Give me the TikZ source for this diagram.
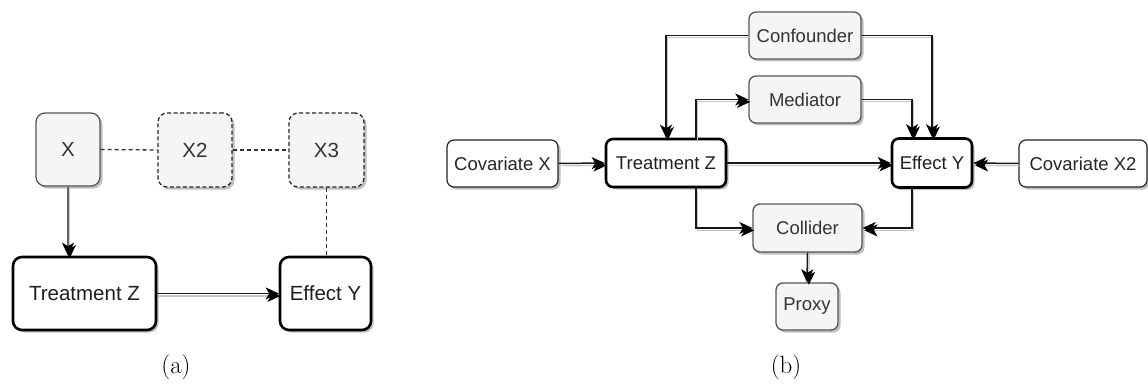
\documentclass[tikz,border=0pt]{standalone}
\usepackage{fontspec}
\setmainfont{Latin Modern Roman}
\newfontfamily\labelfont{Liberation Sans}
\usetikzlibrary{arrows.meta,shadows,calc}
\definecolor{boxgray}{HTML}{F5F5F5}
\definecolor{edgegray}{HTML}{555555}
\definecolor{txtgray}{HTML}{333333}
\tikzset{
  base/.style={rounded corners=#1, inner sep=0pt, align=center,
    drop shadow={shadow xshift=2.5pt, shadow yshift=-2.5pt, fill=black, opacity=0.25}},
  base/.default=9pt,
  varbox/.style={base=#1, draw=edgegray, line width=1.3pt, fill=boxgray, text=txtgray},
  varbox/.default=9pt,
  hidbox/.style={varbox=#1, draw=black!85, dash pattern=on 4pt off 2.5pt},
  hidbox/.default=9pt,
  keybox/.style={base=#1, draw=black, line width=2.6pt, fill=white, text=black!88},
  keybox/.default=9pt,
  covbox/.style={base=#1, draw=black!85, line width=1.2pt, fill=white, text=black!85},
  covbox/.default=7pt,
  fonta/.style={font=\labelfont\fontsize{20.5}{24}\selectfont},
  fontb/.style={font=\labelfont\fontsize{18.5}{22}\selectfont},
  tip/.style={-{Stealth[length=13pt,width=12pt,inset=3.5pt,color=black]}},
  link/.style={line width=1.5pt, draw=black!90,
    preaction={draw=black!22, line width=1.2pt, transform canvas={shift={(1.8pt,-2.4pt)}}}},
  hidlink/.style={line width=1.3pt, draw=txtgray, dash pattern=on 4pt off 3pt},
  caption/.style={font=\fontsize{25}{30}\selectfont, inner sep=0pt},
}
\begin{document}
\begin{tikzpicture}[x=1pt, y=-1pt]
\useasboundingbox (0,0) rectangle (1148,385);

% ---------- panel (a) ----------
\node[varbox, fonta, minimum width=64pt, minimum height=73pt] (ax) at (68,149.5) {X};
\node[hidbox, fonta, minimum width=74pt, minimum height=74pt] (ax2) at (195,150) {X2};
\node[hidbox, fonta, minimum width=75pt, minimum height=74pt] (ax3) at (326.5,150) {X3};
\node[keybox, fonta, minimum width=143pt, minimum height=73pt] (az) at (84.5,293.5) {Treatment Z};
\node[keybox, fonta, minimum width=91pt, minimum height=73pt] (ay) at (325.5,293.5) {Effect Y};

\draw[hidlink] (ax.east) -- (ax2.west);
\draw[hidlink] (ax2.east) -- (ax3.west);
\draw[hidlink] (ax3.south) -- (ax3.south |- ay.north);
\draw[link, tip, draw=black!60] (ax.south) -- (ax.south |- az.north);
\draw[link, tip] (az.east) -- (ay.west);

\node[caption] (capa) at (176,367) {(a)};

% ---------- panel (b) ----------
\node[covbox, fontb, minimum width=111pt, minimum height=47pt] (bcx) at (502.5,163.5) {Covariate X};
\node[keybox=7pt, fontb, minimum width=120pt, minimum height=48pt] (bz) at (666,163) {Treatment Z};
\node[varbox=7pt, fontb, minimum width=112pt, minimum height=47pt] (bconf) at (805,35.5) {Confounder};
\node[varbox=7pt, fontb, minimum width=112pt, minimum height=47pt] (bmed) at (805,99.5) {Mediator};
\node[keybox=7pt, fontb, minimum width=80pt, minimum height=49pt] (by) at (932,163) {Effect Y};
\node[covbox, fontb, minimum width=128pt, minimum height=47pt] (bcx2) at (1083,163.5) {Covariate X2};
\node[varbox=7pt, fontb, minimum width=109pt, minimum height=48pt] (bcol) at (807.5,228) {Collider};
\node[varbox=7pt, fontb, minimum width=62pt, minimum height=47pt] (bproxy) at (807,306.5) {Proxy};

\coordinate (zup) at ($(bz.north)+(30,0)$);
\coordinate (zdown) at ($(bz.south)+(30,0)$);
\coordinate (ymed) at ($(by.north)+(-20,0)$);
\coordinate (ydown) at ($(by.south)+(-20,0)$);

\draw[link, tip] (bcx.east) -- (bz.west);
\draw[link, tip] (bconf.west) -| (bz.north);
\draw[link, tip] (bconf.east) -| (by.north);
\draw[link, tip] (zup) |- (bmed.west);
\draw[link, tip] (bmed.east) -| (ymed);
\draw[link, tip] (bz.east) -- (by.west);
\draw[link, tip] (bcx2.west) -- (by.east);
\draw[link, tip] (zdown) |- (bcol.west);
\draw[link, tip] (ydown) |- (bcol.east);
\draw[link, tip] (bcol.south) -- (bproxy.north);

\node[caption] (capb) at (786,367) {(b)};
\end{tikzpicture}
\end{document}
